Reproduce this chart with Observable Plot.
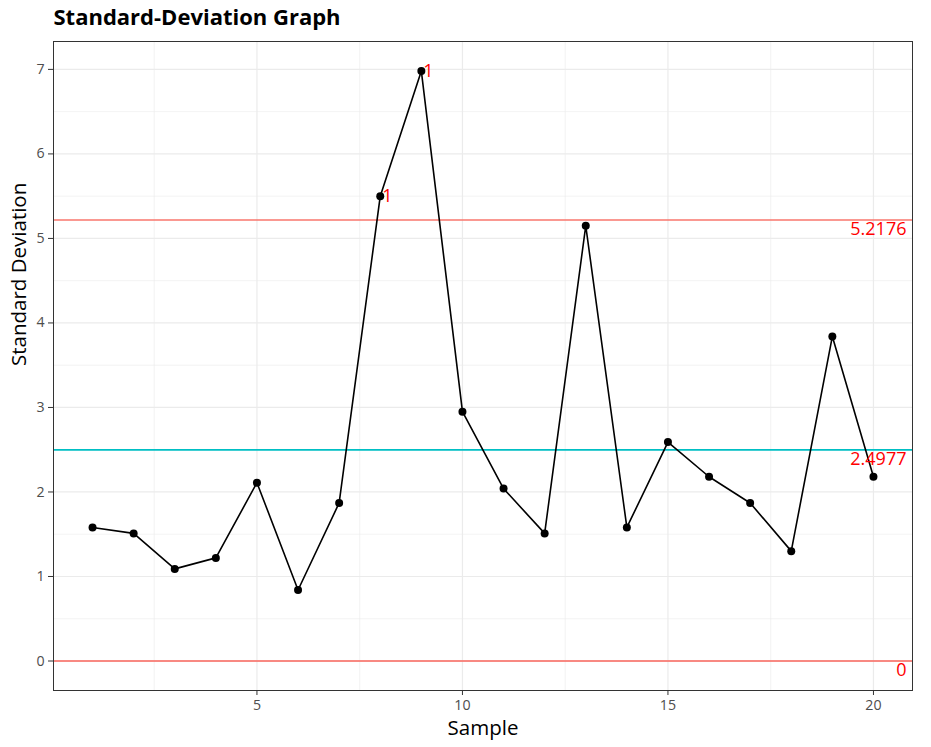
<!DOCTYPE html>
<html><head><meta charset="utf-8">
<script src="https://cdn.jsdelivr.net/npm/d3@7"></script>
<script src="https://cdn.jsdelivr.net/npm/@observablehq/plot@0.6"></script>
<style>
body{margin:0;background:#fff;}
#chart svg{display:block;}
</style></head>
<body><div id="chart"></div>
<script>
const samples = [1,2,3,4,5,6,7,8,9,10,11,12,13,14,15,16,17,18,19,20];
const stdDev = [1.58,1.51,1.09,1.22,2.11,0.84,1.87,5.50,6.98,2.95,2.04,1.51,5.15,1.58,2.59,2.18,1.87,1.30,3.84,2.18];
const violationSamples = [8,9];
const violationLabels = ["1","1"];
const limitValues = [5.2176, 2.4977, 0];
const limitLabels = ["5.2176","2.4977","0"];
const xTicks = [5,10,15,20];
const xMinor = [2.5,7.5,12.5,17.5];
const yTicks = [0,1,2,3,4,5,6,7];
const yMinor = [0.5,1.5,2.5,3.5,4.5,5.5,6.5];

const data = samples.map((s,i)=>({sample:s, sd:stdDev[i]}));
const violations = violationSamples.map((s,i)=>({sample:s, sd:stdDev[samples.indexOf(s)], label:violationLabels[i]}));
const limits = limitValues.map((v,i)=>({value:v, label:limitLabels[i]}));
const xMax = 20.95;

const chart = Plot.plot({
  width: 931, height: 747,
  marginLeft: 53, marginRight: 19, marginTop: 41, marginBottom: 57,
  style: {fontFamily: "'Open Sans', sans-serif", fontSize: "14.2px", background: "#fff", overflow: "visible"},
  x: {domain: [0.05, xMax]},
  y: {domain: [-0.349, 7.33]},
  marks: [
    Plot.ruleX(xMinor, {stroke: "#ebebeb", strokeWidth: 0.6}),
    Plot.ruleY(yMinor, {stroke: "#ebebeb", strokeWidth: 0.6}),
    Plot.ruleX(xTicks, {stroke: "#ebebeb", strokeWidth: 1.2}),
    Plot.ruleY(yTicks, {stroke: "#ebebeb", strokeWidth: 1.2}),
    Plot.ruleY([limitValues[0]], {stroke: "#F8766D", strokeWidth: 1.5}),
    Plot.ruleY([limitValues[1]], {stroke: "#00BFC4", strokeWidth: 1.6}),
    Plot.ruleY([limitValues[2]], {stroke: "#F8766D", strokeWidth: 2, strokeOpacity: 0.85}),
    Plot.line(data, {x: "sample", y: "sd", stroke: "black", strokeWidth: 1.6}),
    Plot.dot(data, {x: "sample", y: "sd", r: 4, fill: "black"}),
    Plot.text(violations, {x: "sample", y: "sd", text: "label", textAnchor: "start", dx: 2, fill: "red", fontSize: 18}),
    Plot.text(limits, {x: () => xMax, y: "value", text: "label", textAnchor: "end", lineAnchor: "top", dx: -6, dy: 2, fill: "red", fontSize: 18}),
    Plot.frame({stroke: "#333", strokeWidth: 1}),
    Plot.axisX({ticks: xTicks, tickSize: 5, tickPadding: 4, label: null, stroke: "#333", fill: "#4d4d4d"}),
    Plot.axisY({ticks: yTicks, tickSize: 5, tickPadding: 4, label: null, stroke: "#333", fill: "#4d4d4d"}),
    Plot.text(["Sample"], {frameAnchor: "bottom", lineAnchor: "top", dy: 30, fontSize: 20.5, fill: "black"}),
    Plot.text(["Standard Deviation"], {frameAnchor: "left", lineAnchor: "top", rotate: -90, dx: -42, fontSize: 20.5, fill: "black"}),
    Plot.text(["Standard-Deviation Graph"], {frameAnchor: "top-left", textAnchor: "start", lineAnchor: "top", dy: -32, fontSize: 22, fontWeight: "bold", fill: "black"})
  ]
});
document.getElementById("chart").appendChild(chart);
</script>
</body></html>
